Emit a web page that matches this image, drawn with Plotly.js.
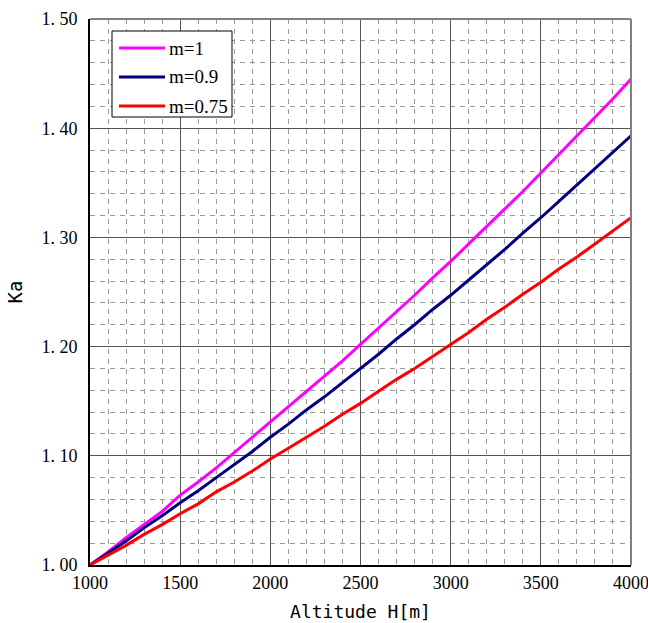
<!DOCTYPE html>
<html>
<head>
<meta charset="utf-8">
<script src="https://cdn.plot.ly/plotly-3.0.1.min.js"></script>
<style>html,body{margin:0;padding:0;background:#fff;}#chart{width:648px;height:623px;}</style>
</head>
<body>
<div id="chart"></div>
<script>
// Altitude H [m]
const altitude = [1000,1100,1200,1300,1400,1500,1600,1700,1800,1900,2000,2100,2200,2300,2400,2500,2600,2700,2800,2900,3000,3100,3200,3300,3400,3500,3600,3700,3800,3900,4000];
// Ka for m = 1
const ka_m1 = [1.000,1.012,1.025,1.037,1.049,1.064,1.076,1.089,1.103,1.117,1.131,1.145,1.159,1.173,1.187,1.202,1.217,1.232,1.247,1.263,1.278,1.294,1.310,1.326,1.342,1.359,1.376,1.393,1.410,1.427,1.445];
// Ka for m = 0.9
const ka_m09 = [1.000,1.011,1.022,1.034,1.045,1.057,1.068,1.080,1.092,1.104,1.117,1.129,1.142,1.154,1.167,1.180,1.193,1.207,1.220,1.234,1.247,1.261,1.275,1.289,1.304,1.318,1.333,1.348,1.363,1.378,1.393];
// Ka for m = 0.75
const ka_m075 = [1.000,1.009,1.018,1.028,1.037,1.047,1.056,1.067,1.076,1.086,1.097,1.107,1.117,1.127,1.138,1.148,1.159,1.170,1.180,1.191,1.202,1.213,1.225,1.236,1.248,1.259,1.271,1.282,1.294,1.306,1.318];

const seriesNames = ["m=1","m=0.9","m=0.75"];
const seriesColors = ["#FF00FF","#000080","#FF0000"];
const yTickVals = [1.0,1.1,1.2,1.3,1.4,1.5];
const yTickText = ["1. 00","1. 10","1. 20","1. 30","1. 40","1. 50"];
const xTickVals = [1000,1500,2000,2500,3000,3500,4000];

const serif = "Liberation Serif, DejaVu Serif, serif";
const mono = "DejaVu Sans Mono, monospace";

const seriesY = [ka_m1, ka_m09, ka_m075];
const traces = seriesY.map((ys, i) => ({
  x: altitude, y: ys, name: seriesNames[i], type: "scatter", mode: "lines",
  line: {color: seriesColors[i], width: 3}, showlegend: false
}));

// plot area pixel helpers (for legend placement only)
const L = 90, R = 631, T = 19, B = 565;
const px = v => (v - L) / (R - L);
const py = v => (B - v) / (B - T);

const shapes = [
  {type: "line", xref: "paper", yref: "paper", x0: 0, x1: 1, y0: 1, y1: 1, line: {color: "#808080", width: 2}},
  {type: "line", xref: "paper", yref: "paper", x0: 1, x1: 1, y0: 0, y1: 1, line: {color: "#808080", width: 2}},
  {type: "rect", xref: "paper", yref: "paper", x0: px(112), x1: px(232), y0: py(117), y1: py(31), line: {color: "#000", width: 1}, fillcolor: "#fff", layer: "above"}
];
const annotations = [];
const rowY = [48, 77, 106];
seriesNames.forEach((n, i) => {
  shapes.push({type: "line", xref: "paper", yref: "paper", x0: px(119), x1: px(165), y0: py(rowY[i]), y1: py(rowY[i]), line: {color: seriesColors[i], width: 3}, layer: "above"});
  annotations.push({xref: "paper", yref: "paper", x: px(167), y: py(rowY[i]), xanchor: "left", yanchor: "middle", text: n, showarrow: false, font: {family: serif, size: 19, color: "#000"}});
});

const layout = {
  width: 648, height: 623,
  margin: {l: 90, r: 17, t: 19, b: 58},
  paper_bgcolor: "#fff", plot_bgcolor: "#fff",
  showlegend: false,
  xaxis: {
    range: [1000, 4000], tickvals: xTickVals, ticks: "",
    tickfont: {family: serif, size: 18, color: "#000"},
    ticklabeloverflow: "allow",
    showgrid: true, gridcolor: "#555", gridwidth: 1,
    minor: {dtick: 100, showgrid: true, gridcolor: "#999", griddash: "5px,5px", gridwidth: 1},
    showline: true, linecolor: "#000", linewidth: 2, zeroline: false,
    title: {text: "Altitude H[m]", font: {family: mono, size: 18, color: "#000"}, standoff: 14}
  },
  yaxis: {
    range: [1.0, 1.5], tickvals: yTickVals, ticktext: yTickText, ticks: "",
    tickfont: {family: serif, size: 18, color: "#000"},
    ticklabeloverflow: "allow",
    showgrid: true, gridcolor: "#555", gridwidth: 1,
    minor: {dtick: 0.02, showgrid: true, gridcolor: "#999", griddash: "5px,5px", gridwidth: 1},
    showline: true, linecolor: "#000", linewidth: 2, zeroline: false,
    ticklabelstandoff: 7,
    title: {text: "Ka", font: {family: mono, size: 19, color: "#000"}, standoff: 14}
  },
  shapes: shapes,
  annotations: annotations
};

Plotly.newPlot("chart", traces, layout, {displayModeBar: false, staticPlot: true});
</script>
</body>
</html>
